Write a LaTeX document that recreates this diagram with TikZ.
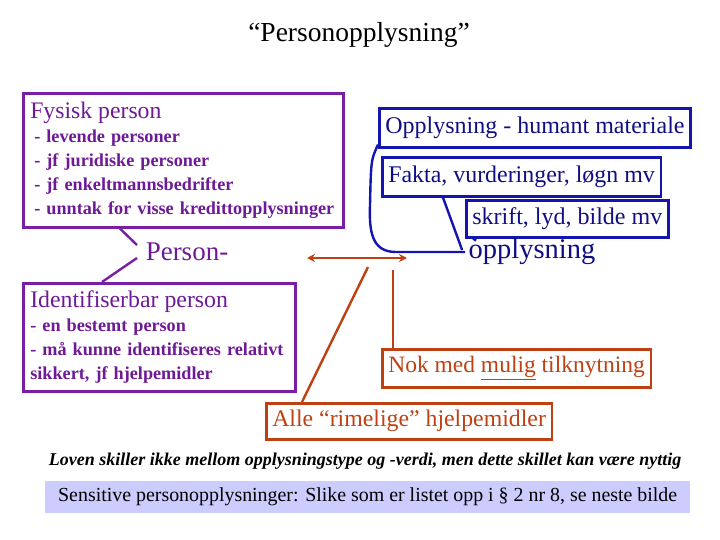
\documentclass[tikz,border=0pt]{standalone}
\usepackage{fontspec}
\setmainfont{Liberation Serif}
\usetikzlibrary{arrows.meta,calc}

\definecolor{purp}{RGB}{122,30,165}
\definecolor{purptext}{RGB}{110,25,150}
\definecolor{blu}{RGB}{20,20,175}
\definecolor{blutext}{RGB}{15,15,130}
\definecolor{rust}{RGB}{190,65,20}
\definecolor{lavender}{RGB}{204,204,255}

\begin{document}
\begin{tikzpicture}[x=1pt,y=-1pt]
    % Define styles for the boxes and lines
    \tikzstyle{pbox} = [draw=purp, line width=2.6pt, text=purptext, inner xsep=7pt, inner ysep=3pt, align=left]
    \tikzstyle{bbox} = [draw=blu, line width=2.6pt, text=blutext, inner xsep=6pt, inner ysep=3pt, minimum height=39]
    \tikzstyle{rbox} = [draw=rust, line width=2.6pt, text=rust, inner xsep=6pt, inner ysep=3pt, minimum height=37]
    \tikzstyle{pline} = [draw=purp, line width=2.4pt]
    \tikzstyle{bline} = [draw=blu, line width=2.4pt]
    \tikzstyle{rline} = [draw=rust, line width=2.4pt]

    \useasboundingbox (0,0) rectangle (720,540);

    % Title
    \node[font=\fontsize{27.5}{32}\selectfont] (title) at (359,35) {“Personopplysning”};

    % Person side
    \node[pbox, anchor=north west, text width=306, minimum height=134,
          font=\fontsize{18.2}{24}\selectfont\bfseries] (fys) at (22,92)
        {{\fontsize{23.7}{26}\selectfont\mdseries Fysisk person}\\[0pt]
         \hspace{4pt}- levende personer\\
         \hspace{4pt}- jf juridiske personer\\
         \hspace{4pt}- jf enkeltmannsbedrifter\\
         \hspace{4pt}- unntak for visse kredittopplysninger};
    \node[text=purptext, font=\fontsize{27}{31}\selectfont] (pers) at (187,252) {Person-};
    \node[pbox, anchor=north west, text width=258, minimum height=108,
          font=\fontsize{18.2}{24}\selectfont\bfseries] (ident) at (22,282)
        {{\fontsize{23.8}{26}\selectfont\mdseries Identifiserbar person}\\[0pt]
         - en bestemt person\\
         - må kunne identifiseres relativt\\
         sikkert, jf hjelpemidler};

    % Opplysning side
    \node[bbox, anchor=north west, font=\fontsize{24}{28}\selectfont] (human) at (378,107) {Opplysning - humant materiale};
    \node[bbox, anchor=north west, font=\fontsize{23.9}{28}\selectfont] (fakta) at (381,156) {Fakta, vurderinger, løgn mv};
    \node[bbox, anchor=north west, minimum height=37, font=\fontsize{24}{28}\selectfont] (skrift) at (465,199) {skrift, lyd, bilde mv};
    \node[text=blutext, font=\fontsize{28.5}{32}\selectfont] (opp) at (532,252) {opplysning};

    % Tilknytning
    \node[rbox, anchor=north west, minimum height=38, font=\fontsize{23.5}{27}\selectfont] (nok) at (381,348) {Nok med \underline{mulig} tilknytning};
    \node[rbox, anchor=north west, minimum height=36, font=\fontsize{23.8}{27}\selectfont] (alle) at (265,402) {Alle “rimelige” hjelpemidler};

    % Bottom notes
    \node[font=\fontsize{18}{21}\selectfont\bfseries\itshape] (loven) at (365,461)
        {Loven skiller ikke mellom opplysningstype og -verdi, men dette skillet kan være nyttig};
    \node[fill=lavender, anchor=north west, minimum width=645, minimum height=32,
          font=\fontsize{19.9}{23}\selectfont] (sens) at (45,481)
        {Sensitive personopplysninger: Slike som er listet opp i § 2 nr 8, se neste bilde};

    % Bracket round Person-
    \coordinate (pa) at (137,245);
    \coordinate (pb) at (137,258);
    \draw[pline] ($(fys.south west)+(98,0)$) -- (pa);
    \draw[pline] (pb) -- ($(ident.north west)+(80,0)$);

    % Connectors to opplysning
    \draw[bline] (opp.west) -- (396,252) .. controls (372,252) and (369,232) .. (370,205)
        .. controls (371,160) .. ($(human.south west)+(0,-4)$);
    \draw[bline] ($(fakta.south west)+(62,0)$) -- ($(opp.west)+(-3,-2)$);
    \draw[bline] ($(skrift.south west)+(8,0)$) -- ($(opp.north west)+(11,5)$);

    % Arrow between the two parts
    \coordinate (al) at (307,258);
    \coordinate (ar) at (407,258);
    \draw[rline, {Stealth[length=8pt,width=8pt]}-{Stealth[length=8pt,width=8pt]}] (al) -- (ar);
    \coordinate (rl) at (368,267);
    \draw[rline] (rl) -- ($(alle.north west)+(37,0)$);
    \draw[rline] ($(nok.north west)+(12,0)$) -- ++(0,-78);
\end{tikzpicture}
\end{document}
